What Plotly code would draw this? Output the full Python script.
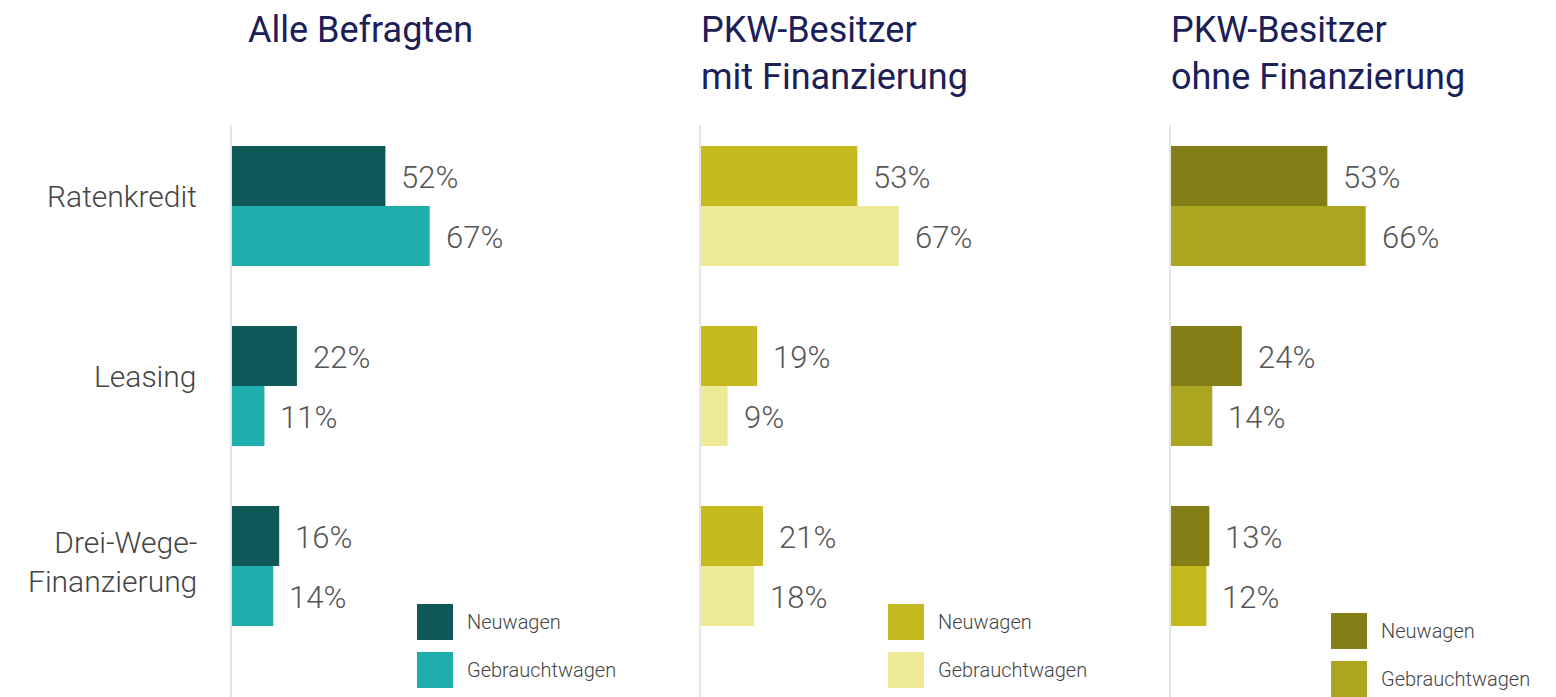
import plotly.graph_objects as go

categories = ["Ratenkredit", "Leasing", "Drei-Wege-Finanzierung"]
category_labels = ["Ratenkredit", "Leasing", "Drei-Wege-<br>Finanzierung"]
series_names = ["Neuwagen", "Gebrauchtwagen"]

panel_titles = ["Alle Befragten", "PKW-Besitzer<br>mit Finanzierung", "PKW-Besitzer<br>ohne Finanzierung"]

alle_neu = [52, 22, 16]
alle_gebraucht = [67, 11, 14]
mit_neu = [53, 19, 21]
mit_gebraucht = [67, 9, 18]
ohne_neu = [53, 24, 13]
ohne_gebraucht = [66, 14, 12]

# the page puts the figure 8px in from the top-left corner
OFF = 8
W, H = 1556 - OFF, 697 - OFF
TOP, BOTTOM = 116 - OFF, 41
PLOT_H = H - TOP - BOTTOM
PX_PER_PCT = 2.95
PANEL_W = 380

TITLE_COLOR = "#1b2057"
LABEL_COLOR = "#555555"
FONT = "Roboto"


def px_x(p):
    return (p - OFF) / W


def px_y(p):
    return (H - BOTTOM - (p - OFF)) / PLOT_H


panels = [
    dict(neu=alle_neu, geb=alle_gebraucht, start=232,
         c_neu=["#0e5957"] * 3, c_geb=["#1eafad"] * 3, leg_x=417, leg_y=604),
    dict(neu=mit_neu, geb=mit_gebraucht, start=701,
         c_neu=["#c4ba20"] * 3, c_geb=["#ede995"] * 3, leg_x=888, leg_y=604),
    dict(neu=ohne_neu, geb=ohne_gebraucht, start=1171,
         c_neu=["#847e17"] * 3, c_geb=["#aca520", "#aca520", "#c4ba20"], leg_x=1331, leg_y=613),
]

fig = go.Figure()
annotations = []
shapes = []

for i, p in enumerate(panels):
    n = "" if i == 0 else str(i + 1)
    xa, ya = "x" + n, "y" + n
    for vals, cols, name in [(p["neu"], p["c_neu"], series_names[0]),
                             (p["geb"], p["c_geb"], series_names[1])]:
        fig.add_trace(go.Bar(
            x=vals, y=categories, orientation="h", name=name,
            marker=dict(color=cols, line=dict(width=0)),
            xaxis=xa, yaxis=ya, showlegend=False, hoverinfo="x+y",
        ))
        shift = 30 if name == series_names[0] else -30
        for c, v in zip(categories, vals):
            annotations.append(dict(
                x=v, y=c, xref=xa, yref=ya, text=f"{v}%", showarrow=False,
                xanchor="left", yshift=shift - 1, xshift=14,
                font=dict(family=FONT, size=31, color=LABEL_COLOR, weight=300),
            ))

    dom = [px_x(p["start"]), px_x(p["start"] + PANEL_W)]
    fig.update_layout(**{
        "xaxis" + n: dict(domain=dom, range=[0, PANEL_W / PX_PER_PCT], visible=False,
                          anchor=ya, fixedrange=True),
        "yaxis" + n: dict(domain=[0, 1], autorange="reversed", anchor=xa,
                          showticklabels=False, showgrid=False, zeroline=False,
                          ticks="", showline=False, fixedrange=True),
    })

    # axis line
    shapes.append(dict(type="line", xref="paper", yref="paper",
                       x0=px_x(p["start"] - 1), x1=px_x(p["start"] - 1),
                       y0=px_y(125), y1=px_y(697 + 4), line=dict(color="#e6e6e6", width=2)))

    # title
    annotations.append(dict(
        x=px_x(p["start"] - 1 + (16 if i == 0 else 0)), y=px_y(OFF), xref="paper", yref="paper",
        text=panel_titles[i], showarrow=False, xanchor="left", yanchor="top", align="left",
        borderpad=0, font=dict(family=FONT, size=36, color=TITLE_COLOR),
    ))

    # legend
    for k, (name, col) in enumerate([(series_names[0], p["c_neu"][0]),
                                      (series_names[1], p["c_geb"][0])]):
        y0 = p["leg_y"] + k * 48
        shapes.append(dict(type="rect", xref="paper", yref="paper",
                           x0=px_x(p["leg_x"]), x1=px_x(p["leg_x"] + 36),
                           y0=px_y(y0), y1=px_y(y0 + 36),
                           fillcolor=col, line=dict(width=0)))
        annotations.append(dict(
            x=px_x(p["leg_x"] + 48), y=px_y(y0 + 18), xref="paper", yref="paper",
            text=name, showarrow=False, xanchor="left", yanchor="middle",
            font=dict(family=FONT, size=20, color="#444444", weight=300),
        ))

# category labels
for c, lab in zip(categories, category_labels):
    annotations.append(dict(
        x=px_x(199), y=c, xref="paper", yref="y", text=lab, showarrow=False,
        xanchor="right", align="right", yshift=10 if "<br>" not in lab else 4,
        font=dict(family=FONT, size=30, color="#444444", weight=300),
    ))

fig.update_layout(
    width=W, height=H,
    margin=dict(l=0, r=0, t=TOP, b=BOTTOM),
    barmode="group", bargap=1 / 3, bargroupgap=0,
    plot_bgcolor="white", paper_bgcolor="white",
    annotations=annotations, shapes=shapes,
    font=dict(family=FONT),
)

fig.write_html("out.html")
